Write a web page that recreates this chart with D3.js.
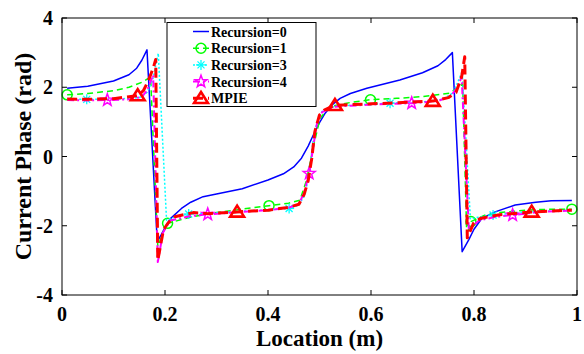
<!DOCTYPE html>
<html><head><meta charset="utf-8">
<script src="https://cdn.jsdelivr.net/npm/d3@7"></script>
<style>body{margin:0;background:#fff}svg{display:block}
text{font-family:"Liberation Serif","Times New Roman",Times,serif;font-weight:bold}</style>
</head><body>
<svg id="c" width="584" height="354"></svg>
<script>
// ---- data ----
const xTicks = [0, 0.2, 0.4, 0.6, 0.8, 1];
const xTickLabels = ["0", "0.2", "0.4", "0.6", "0.8", "1"];
const yTicks = [-4, -2, 0, 2, 4];
const yTickLabels = ["-4", "-2", "0", "2", "4"];

const seriesNames = ["Recursion=0", "Recursion=1", "Recursion=3", "Recursion=4", "MPIE"];

const rec0X = [0.01,0.05,0.1,0.13,0.145,0.155,0.165,0.185,0.193,0.2,0.21,0.232,0.25,0.274,0.3,0.35,0.4,0.43,0.45,0.465,0.478,0.488,0.5,0.511,0.525,0.54,0.56,0.592,0.656,0.7,0.73,0.745,0.758,0.777,0.79,0.8,0.815,0.841,0.88,0.92,0.95,0.99];
const rec0Y = [1.97,2.03,2.18,2.36,2.55,2.78,3.08,-2.46,-2.25,-2.05,-1.8,-1.5,-1.32,-1.16,-1.08,-0.93,-0.68,-0.5,-0.3,-0.05,0.3,0.62,0.98,1.25,1.5,1.68,1.82,1.97,2.21,2.42,2.62,2.8,3.0,-2.75,-2.4,-2.1,-1.79,-1.6,-1.4,-1.32,-1.28,-1.27];

const rec1X = [0.01,0.05,0.1,0.13,0.158,0.172,0.186,0.196,0.205,0.25,0.3,0.35,0.402,0.44,0.462,0.475,0.488,0.501,0.52,0.56,0.599,0.65,0.7,0.753,0.768,0.778,0.786,0.794,0.82,0.85,0.9,0.95,0.99];
const rec1Y = [1.78,1.82,1.9,2.0,2.16,2.3,-2.6,-2.2,-1.93,-1.75,-1.62,-1.52,-1.42,-1.35,-1.26,-0.68,0.28,1.1,1.44,1.56,1.64,1.68,1.73,1.83,1.98,2.1,-2.3,-1.88,-1.7,-1.62,-1.55,-1.52,-1.52];
const rec1MarkX = [0.01,0.205,0.402,0.599,0.794,0.99];
const rec1MarkY = [1.78,-1.93,-1.42,1.64,-1.88,-1.52];

const rec3X = [0.01,0.048,0.1,0.15,0.165,0.176,0.187,0.203,0.22,0.246,0.3,0.35,0.4,0.441,0.46,0.472,0.48,0.487,0.495,0.505,0.53,0.58,0.637,0.7,0.74,0.76,0.777,0.793,0.81,0.837,0.9,0.99];
const rec3Y = [1.65,1.65,1.65,1.7,1.85,2.2,2.98,-1.84,-1.74,-1.66,-1.63,-1.58,-1.54,-1.5,-1.4,-1.1,-0.5,0.4,1.0,1.3,1.45,1.5,1.54,1.58,1.65,1.85,2.45,-1.8,-1.75,-1.69,-1.6,-1.55];
const rec3MarkX = [0.048,0.246,0.441,0.637,0.837];
const rec3MarkY = [1.65,-1.66,-1.5,1.54,-1.69];

const rec4X = [0.01,0.05,0.088,0.13,0.155,0.165,0.177,0.186,0.196,0.21,0.25,0.283,0.33,0.4,0.44,0.46,0.47,0.48,0.488,0.495,0.505,0.53,0.6,0.679,0.73,0.755,0.768,0.776,0.79,0.81,0.84,0.875,0.93,0.99];
const rec4Y = [1.63,1.62,1.63,1.65,1.72,1.9,2.35,-3.05,-2.2,-1.85,-1.72,-1.67,-1.62,-1.55,-1.48,-1.37,-1.05,-0.49,0.3,0.95,1.28,1.44,1.5,1.54,1.6,1.75,2.0,2.3,-2.1,-1.85,-1.75,-1.69,-1.6,-1.56];
const rec4MarkX = [0.088,0.283,0.48,0.679,0.875];
const rec4MarkY = [1.63,-1.67,-0.49,1.54,-1.69];

const mpieX = [0.01,0.05,0.1,0.147,0.158,0.168,0.177,0.182,0.186,0.197,0.206,0.219,0.255,0.283,0.34,0.4,0.44,0.46,0.47,0.478,0.485,0.491,0.5,0.51,0.53,0.6,0.65,0.72,0.75,0.765,0.776,0.782,0.787,0.799,0.812,0.85,0.912,0.99];
const mpieY = [1.66,1.65,1.67,1.76,1.9,2.2,2.55,2.8,-3.0,-2.12,-1.92,-1.74,-1.62,-1.65,-1.6,-1.55,-1.47,-1.38,-1.1,-0.7,-0.05,0.72,1.2,1.35,1.48,1.52,1.55,1.6,1.7,1.85,2.3,2.88,-2.35,-1.93,-1.79,-1.68,-1.6,-1.55];
const mpieMarkX = [0.147,0.34,0.53,0.72,0.912];
const mpieMarkY = [1.76,-1.6,1.48,1.6,-1.6];

// ---- layout ----
const L = 62, R = 577, T = 18, B = 295;
const svg = d3.select("#c");
const x = d3.scaleLinear().domain([0, 1]).range([L, R]);
const y = d3.scaleLinear().domain([-4, 4]).range([B, T]);

const series = [
  {name: seriesNames[0], xs: rec0X, ys: rec0Y, color: "#0000ff", w: 1.5, dash: null, marker: null},
  {name: seriesNames[1], xs: rec1X, ys: rec1Y, mx: rec1MarkX, my: rec1MarkY, color: "#00ff00", w: 1.5, dash: "6,4", marker: "circle"},
  {name: seriesNames[2], xs: rec3X, ys: rec3Y, mx: rec3MarkX, my: rec3MarkY, color: "#00ffff", w: 1.5, dash: "2,2", marker: "asterisk"},
  {name: seriesNames[3], xs: rec4X, ys: rec4Y, mx: rec4MarkX, my: rec4MarkY, color: "#ff00ff", w: 2, dash: "7,3,2,3", marker: "star"},
  {name: seriesNames[4], xs: mpieX, ys: mpieY, mx: mpieMarkX, my: mpieMarkY, color: "#ff0000", w: 3, dash: "10,5", marker: "triangle"}
];

const line = d3.line().x(d => x(d[0])).y(d => y(d[1]));

function drawMarker(g, type, cx, cy, color) {
  if (type === "circle") {
    g.append("circle").attr("cx", cx).attr("cy", cy).attr("r", 5)
      .attr("fill", "none").attr("stroke", color).attr("stroke-width", 1.5);
  } else if (type === "asterisk") {
    const s = 5;
    const p = [[0,-s,0,s],[-s,0,s,0],[-s*0.7,-s*0.7,s*0.7,s*0.7],[-s*0.7,s*0.7,s*0.7,-s*0.7]];
    p.forEach(q => g.append("line").attr("x1", cx+q[0]).attr("y1", cy+q[1]).attr("x2", cx+q[2]).attr("y2", cy+q[3])
      .attr("stroke", color).attr("stroke-width", 1.3));
  } else if (type === "star") {
    const pts = [];
    for (let i = 0; i < 10; i++) {
      const r = i % 2 === 0 ? 6.3 : 2.6;
      const a = -Math.PI / 2 + i * Math.PI / 5;
      pts.push([cx + r * Math.cos(a), cy + r * Math.sin(a)]);
    }
    g.append("polygon").attr("points", pts.map(p => p.join(",")).join(" "))
      .attr("fill", "none").attr("stroke", color).attr("stroke-width", 1.5).attr("stroke-linejoin", "miter");
  } else if (type === "triangle") {
    const h = 6.3;
    g.append("polygon").attr("points", `${cx},${cy-h} ${cx+h*1.1},${cy+h*0.75} ${cx-h*1.1},${cy+h*0.75}`)
      .attr("fill", "none").attr("stroke", color).attr("stroke-width", 2.6).attr("stroke-linejoin", "miter");
  }
}

// ---- lines ----
const plot = svg.append("g");
series.forEach(s => {
  const pts = s.xs.map((v, i) => [v, s.ys[i]]);
  plot.append("path").datum(pts).attr("d", line).attr("fill", "none")
    .attr("stroke", s.color).attr("stroke-width", s.w)
    .attr("stroke-dasharray", s.dash).attr("stroke-linejoin", "round");
  if (s.marker) {
    const mg = plot.append("g");
    s.mx.forEach((v, i) => drawMarker(mg, s.marker, x(v), y(s.my[i]), s.color));
  }
});

// ---- axes box ----
const ax = svg.append("g").attr("stroke", "#000").attr("stroke-width", 1);
ax.append("rect").attr("x", L).attr("y", T).attr("width", R - L).attr("height", B - T).attr("fill", "none");
const tl = 5;
xTicks.forEach(t => {
  ax.append("line").attr("x1", x(t)).attr("x2", x(t)).attr("y1", B).attr("y2", B - tl);
  ax.append("line").attr("x1", x(t)).attr("x2", x(t)).attr("y1", T).attr("y2", T + tl);
});
yTicks.forEach(t => {
  ax.append("line").attr("y1", y(t)).attr("y2", y(t)).attr("x1", L).attr("x2", L + tl);
  ax.append("line").attr("y1", y(t)).attr("y2", y(t)).attr("x1", R).attr("x2", R - tl);
});

const txt = svg.append("g").attr("fill", "#000");
xTicks.forEach((t, i) => {
  txt.append("text").attr("x", x(t)).attr("y", 321).attr("text-anchor", "middle")
    .attr("font-size", 20).text(xTickLabels[i]);
});
yTicks.forEach((t, i) => {
  txt.append("text").attr("x", 53).attr("y", y(t) + 7).attr("text-anchor", "end")
    .attr("font-size", 20).text(yTickLabels[i]);
});
txt.append("text").attr("x", (L + R) / 2).attr("y", 346).attr("text-anchor", "middle")
  .attr("font-size", 23).text("Location (m)");
txt.append("text").attr("transform", `translate(31,${(T + B) / 2}) rotate(-90)`).attr("text-anchor", "middle")
  .attr("font-size", 24).text("Current Phase (rad)");

// ---- legend ----
const lg = svg.append("g");
lg.append("rect").attr("x", 167).attr("y", 22.5).attr("width", 149).attr("height", 84)
  .attr("fill", "#fff").attr("stroke", "#000").attr("stroke-width", 1);
series.forEach((s, i) => {
  const cy = 31.5 + i * 16.7;
  lg.append("line").attr("x1", 193).attr("x2", 209).attr("y1", cy).attr("y2", cy)
    .attr("stroke", s.color).attr("stroke-width", s.w).attr("stroke-dasharray", s.dash);
  if (s.marker) drawMarker(lg, s.marker, 201, cy, s.color);
  lg.append("text").attr("x", 211).attr("y", cy + 5).attr("font-size", 14).text(s.name);
});
</script>
</body></html>
